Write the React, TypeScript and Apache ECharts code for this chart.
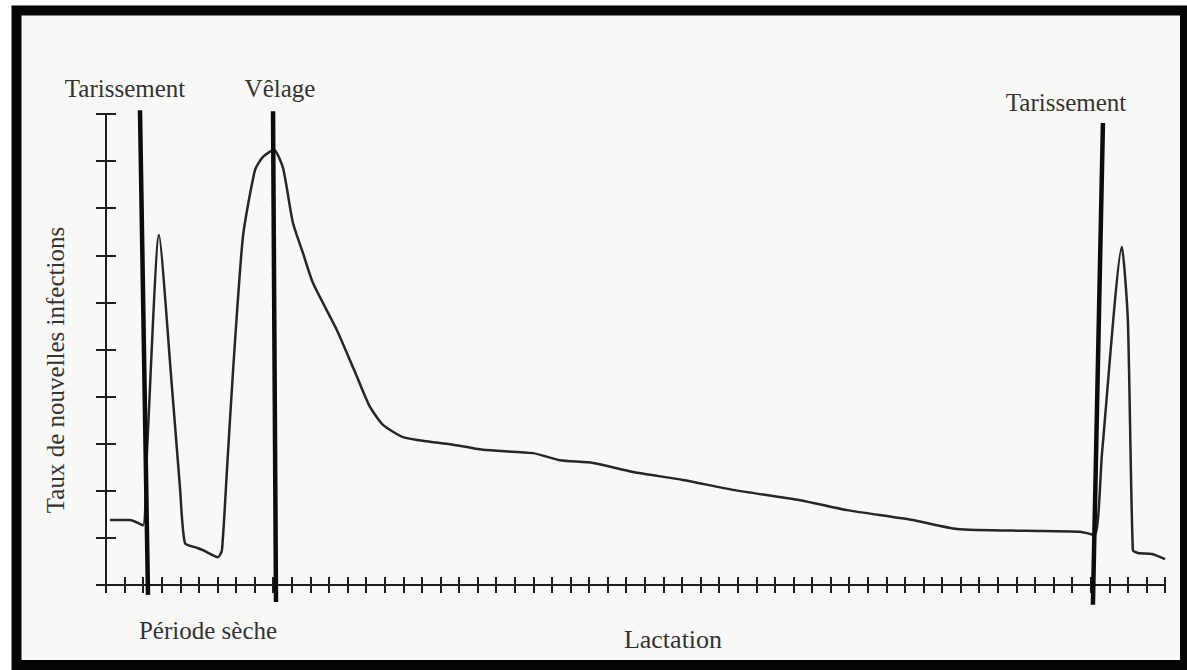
import React, { useEffect, useRef } from "react";
import * as echarts from "echarts";

// Curve: rate of new infections across the dry period and lactation
const curveX = [0.22, 1.29, 1.99, 2.21, 2.85, 3.55, 3.98, 4.25, 4.9, 5.22, 6.03, 6.24, 6.51, 6.84, 7.37, 8.02, 8.45, 9.04, 9.53, 10.06, 10.6, 11.14, 12.43, 13.51, 14.21, 14.91, 15.98, 17.44, 18.51, 20.29, 22.98, 24.43, 26.21, 28.36, 31.06, 33.75, 37.35, 39.88, 43.43, 45.8, 49.57, 52.42, 53.23, 53.61, 54.68, 55.0, 55.27, 55.54, 56.3, 57.0];
const curveY = [1.38, 1.38, 1.27, 2.87, 7.43, 4.2, 2.08, 0.89, 0.79, 0.74, 0.59, 0.74, 2.44, 4.56, 7.39, 8.81, 9.09, 9.24, 8.85, 7.69, 7.05, 6.41, 5.41, 4.42, 3.78, 3.4, 3.14, 3.04, 2.99, 2.87, 2.8, 2.65, 2.59, 2.4, 2.23, 2.02, 1.8, 1.59, 1.38, 1.19, 1.15, 1.13, 1.06, 2.8, 7.18, 5.63, 0.74, 0.68, 0.66, 0.55];

// Event markers (vertical lines): Tarissement, Vêlage, Tarissement
const eventNames = ["Tarissement", "Vêlage", "Tarissement"];
const eventTopX = [1.83, 8.99, 53.66];
const eventTopY = [10.08, 10.06, 9.81];
const eventBottomX = [2.26, 9.15, 53.12];
const eventBottomY = [-0.21, -0.36, -0.42];

// Axes
const xMin = 0;
const xMax = 57;
const yMin = 0;
const yMax = 10;

const yAxisTitle = "Taux de nouvelles infections";
const dryLabel = "Période sèche";
const lactationLabel = "Lactation";

const SERIF = "'Liberation Serif', 'Times New Roman', serif";
const TEXT_COLOR = "#333333";
const LINE_COLOR = "#1e1e1e";

export default function App() {
  const ref = useRef<HTMLDivElement>(null);

  useEffect(() => {
    if (!ref.current) return;
    document.body.style.margin = "0";
    const chart = echarts.init(ref.current, null, { renderer: "svg" });

    const makeX = (inside: boolean) => ({
      type: "value",
      min: xMin,
      max: xMax,
      interval: 1,
      position: "bottom",
      axisLine: { show: true, onZero: false, lineStyle: { color: LINE_COLOR, width: 2 } },
      axisTick: { show: true, inside, length: 8, lineStyle: { color: LINE_COLOR, width: 2 } },
      axisLabel: { show: false },
      splitLine: { show: false },
    });
    const makeY = (inside: boolean) => ({
      type: "value",
      min: yMin,
      max: yMax,
      interval: 1,
      position: "left",
      axisLine: { show: true, onZero: false, lineStyle: { color: LINE_COLOR, width: 2 } },
      axisTick: { show: true, inside, length: 10, lineStyle: { color: LINE_COLOR, width: 2 } },
      axisLabel: { show: false },
      splitLine: { show: false },
    });

    const eventSeries = eventNames.map((name, i) => ({
      type: "line",
      name: name + " " + i,
      xAxisIndex: 0,
      yAxisIndex: 0,
      data: [
        [eventTopX[i], eventTopY[i]],
        [eventBottomX[i], eventBottomY[i]],
      ],
      showSymbol: false,
      symbol: "none",
      clip: false,
      z: 4,
      lineStyle: { color: "#0c0c0c", width: 4.5 },
    }));

    const textStyle = (text: string, size = 25) => ({
      text,
      fill: TEXT_COLOR,
      font: `${size}px ${SERIF}`,
      textAlign: "center",
      textVerticalAlign: "middle",
    });

    chart.setOption({
      animation: false,
      backgroundColor: "#ffffff",
      grid: { left: 106, right: 22, top: 114, bottom: 85, containLabel: false, outerBoundsMode: "none" },
      xAxis: [makeX(false), makeX(true)],
      yAxis: [makeY(false), makeY(true)],
      graphic: [
        {
          type: "rect",
          z: -10,
          silent: true,
          shape: { x: 16.5, y: 10.5, width: 1168.5, height: 654.5 },
          style: { fill: "#f8f8f7", stroke: "#050505", lineWidth: 10 },
        },
        { type: "text", x: 125, y: 88, z: 10, style: textStyle(eventNames[0]) },
        { type: "text", x: 280, y: 88, z: 10, style: textStyle(eventNames[1]) },
        { type: "text", x: 1066, y: 102, z: 10, style: textStyle(eventNames[2]) },
        { type: "text", x: 208, y: 630, z: 10, style: textStyle(dryLabel) },
        { type: "text", x: 673, y: 639, z: 10, style: textStyle(lactationLabel, 26) },
        {
          type: "text",
          x: 55,
          y: 370,
          z: 10,
          rotation: Math.PI / 2,
          style: textStyle(yAxisTitle),
        },
      ],
      series: [
        {
          type: "line",
          name: "curve",
          xAxisIndex: 0,
          yAxisIndex: 0,
          data: curveX.map((x, i) => [x, curveY[i]]),
          showSymbol: false,
          symbol: "none",
          clip: false,
          z: 3,
          smooth: 0.2,
          lineStyle: { color: "#262626", width: 2.5, join: "round" },
        },
        ...eventSeries,
      ],
    } as any);

    return () => chart.dispose();
  }, []);

  return (
    <div
      ref={ref}
      style={{ position: "fixed", left: 0, top: 0, width: 1187, height: 670 }}
    />
  );
}
